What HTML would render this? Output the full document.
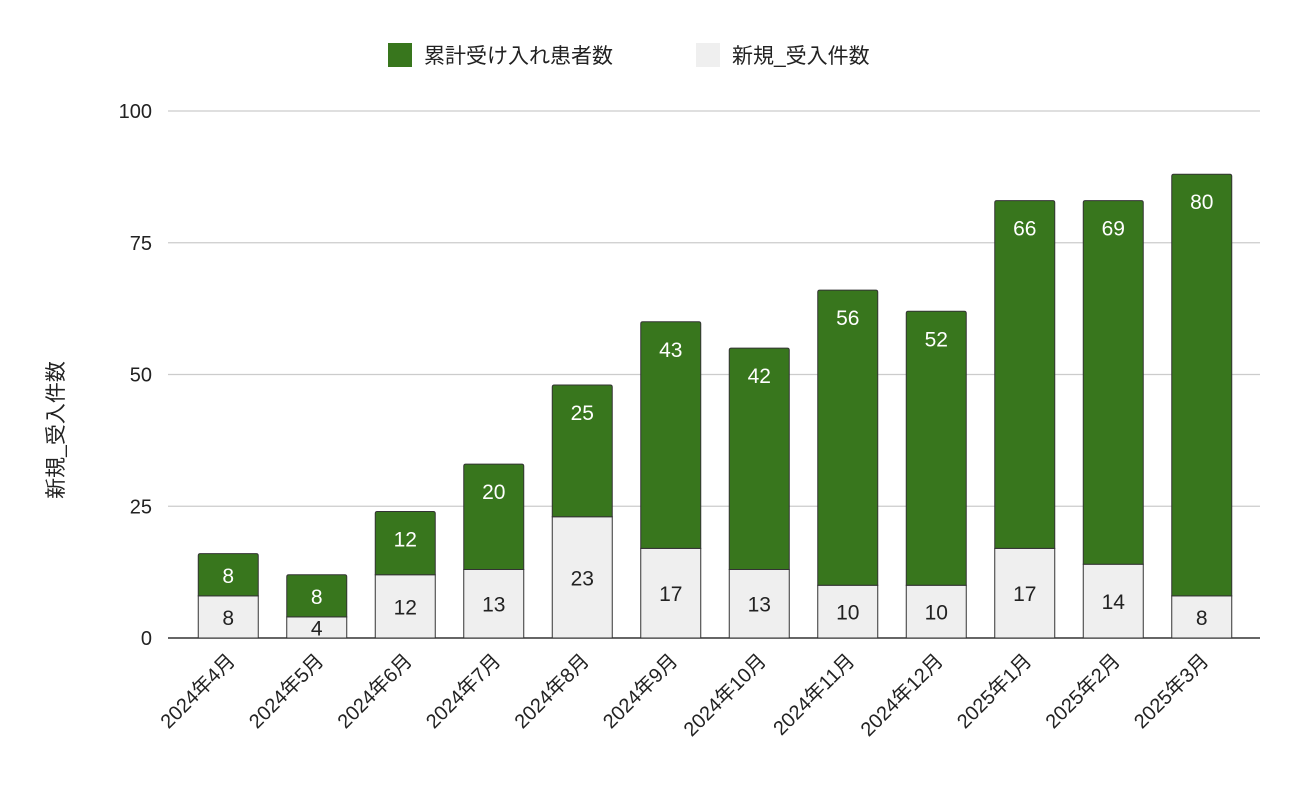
<!DOCTYPE html>
<html><head><meta charset="utf-8">
<style>
body{margin:0;background:#fff;}
svg text{font-family:"Liberation Sans","Noto Sans CJK JP",sans-serif;}
</style></head>
<body>
<svg id="chart" width="1300" height="804" viewBox="0 0 1300 804" xmlns="http://www.w3.org/2000/svg">
<g id="legend">
 <g>
  <rect x="388" y="43" width="24" height="24" fill="#38761d"/>
  <text x="424" y="63" font-size="21" fill="#222">累計受け入れ患者数</text>
 </g>
 <g>
  <rect x="696" y="43" width="24" height="24" fill="#efefef"/>
  <text x="732" y="63" font-size="21" fill="#222">新規_受入件数</text>
 </g>
</g>
<g id="grid"></g>
<g id="yticks"></g>
<g id="bars"></g>
<g id="xticks"></g>
<text transform="translate(63,430) rotate(-90)" text-anchor="middle" font-size="21" fill="#222">新規_受入件数</text>
</svg>
<script>
const categories=["2024年4月","2024年5月","2024年6月","2024年7月","2024年8月","2024年9月","2024年10月","2024年11月","2024年12月","2025年1月","2025年2月","2025年3月"];
const newValues=[8,4,12,13,23,17,13,10,10,17,14,8];
const cumulativeValues=[8,8,12,20,25,43,42,56,52,66,69,80];
const yTicks=[0,25,50,75,100];
const NS="http://www.w3.org/2000/svg";
const plotL=184,plotR=1246,y0=638,y100=111;
const band=(plotR-plotL)/categories.length,bw=60;
const yScale=v=>y0-(v/100)*(y0-y100);
const xCenter=i=>plotL+band*(i+0.5);
function mk(tag,attrs,parent){const e=document.createElementNS(NS,tag);for(const k in attrs)e.setAttribute(k,attrs[k]);parent.appendChild(e);return e;}
const grid=document.getElementById('grid'),yt=document.getElementById('yticks'),bars=document.getElementById('bars'),xt=document.getElementById('xticks');
yTicks.forEach(t=>{
 const y=yScale(t);
 const l=mk('line',{x1:168,x2:1260,y1:y,y2:y,stroke:t===0?'#333':'#ccc','stroke-width':t===0?1.5:1.2},grid);
 
 
 const tx=mk('text',{x:152,y:y+7,'text-anchor':'end','font-size':20,fill:'#222'},yt);
 tx.textContent=t;
 
 
});
categories.forEach((c,i)=>{
 const cx=xCenter(i),x=cx-bw/2;
 const nTop=yScale(newValues[i]),cTop=yScale(newValues[i]+cumulativeValues[i]);
 const g=mk('g',{},bars);
 
 
 const r1=mk('rect',{x:x,y:nTop,width:bw,height:y0-nTop,fill:'#efefef',stroke:'#333','stroke-width':1},g);
 
 
 const r2=mk('path',{d:`M${x},${nTop}V${cTop+2}Q${x},${cTop} ${x+2},${cTop}H${x+bw-2}Q${x+bw},${cTop} ${x+bw},${cTop+2}V${nTop}Z`,fill:'#38761d',stroke:'#333','stroke-width':1},g);
 
 
 const t1=mk('text',{x:cx,y:(nTop+y0)/2+8,'text-anchor':'middle','font-size':21,fill:'#222'},g);
 t1.textContent=newValues[i];
 
 
 const h=nTop-cTop;
 const t2=mk('text',{x:cx,y:cTop+Math.min(h/2,27)+8,'text-anchor':'middle','font-size':21,fill:'#fff'},g);
 t2.textContent=cumulativeValues[i];
 
 
 const xl=mk('text',{transform:`translate(${cx+8},${662}) rotate(-45)`,'text-anchor':'end','font-size':20,fill:'#222'},xt);
 xl.textContent=c;
 
 
});
</script>
</body></html>
